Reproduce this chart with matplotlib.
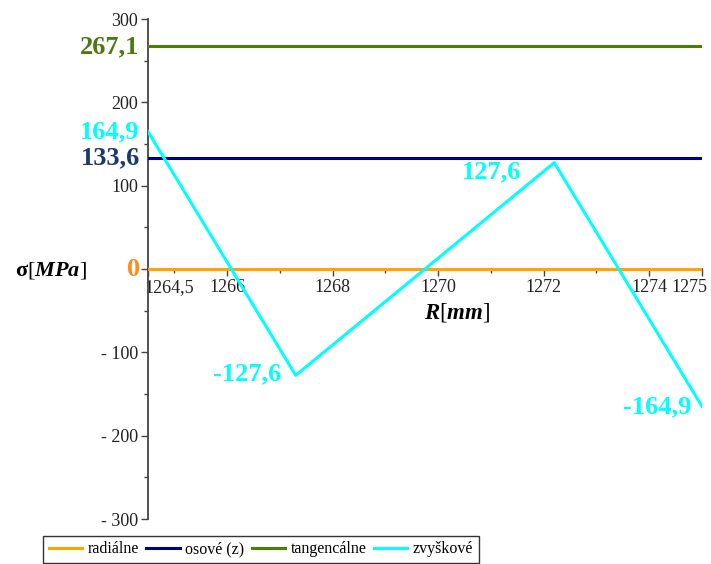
import numpy as np
import matplotlib.pyplot as plt
from matplotlib.transforms import ScaledTranslation

plt.rcParams['font.family'] = ['Liberation Serif', 'DejaVu Serif']
plt.rcParams['mathtext.fontset'] = 'custom'
plt.rcParams['mathtext.rm'] = 'Liberation Serif'
plt.rcParams['mathtext.it'] = 'Liberation Serif:italic'
plt.rcParams['mathtext.bf'] = 'Liberation Serif:bold'
plt.rcParams['mathtext.bfit'] = 'Liberation Serif:bold:italic'

# radius range of the ring [mm]
r_in, r_out = 1264.5, 1275.0

# constant stresses [MPa]
radialne = 0.0
osove = 133.6
tangencalne = 267.1

# residual stress, piecewise linear [MPa]
zvys_r = [1264.5, 1267.3, 1272.2, 1275.0]
zvys_s = [164.9, -127.6, 127.6, -164.9]

xtick_vals = [1264.5, 1266, 1268, 1270, 1272, 1274, 1275]
xtick_txt = ['1264,5', '1266', '1268', '1270', '1272', '1274', '1275']

c_rad = '#FFA500'
c_os = '#000080'
c_tan = '#4C7F00'
c_zv = '#00FFFF'

fig = plt.figure(figsize=(7.11, 5.64), dpi=100)
ax = fig.add_axes([148/711, 1 - 519/564, (702 - 148)/711, 500/564])

ax.plot([r_in, r_out], [radialne]*2, color=c_rad, lw=2.2, label='radiálne', zorder=3)
ax.plot([r_in, r_out], [osove]*2, color=c_os, lw=2.2, label='osové (z)', zorder=3)
ax.plot([r_in, r_out], [tangencalne]*2, color=c_tan, lw=2.2, label='tangencálne', zorder=3)
ax.plot(zvys_r, zvys_s, color=c_zv, lw=2.2, label='zvyškové', zorder=4)

ax.set_xlim(r_in, r_out)
ax.set_ylim(-300, 300)

# axes crossing at sigma = 0
for s in ['top', 'right']:
    ax.spines[s].set_visible(False)
ax.spines['bottom'].set_position(('data', 0))
ax.spines['left'].set_color('#444444')
ax.spines['bottom'].set_color('#444444')
ax.spines['left'].set_linewidth(1.3)
ax.spines['bottom'].set_linewidth(1.3)

ax.set_yticks(np.arange(-300, 301, 100))
ax.set_yticks(np.arange(-250, 300, 100), minor=True)
ax.set_yticklabels([('- ' + str(abs(v))) if v < 0 else ('' if v == 0 else str(v))
                    for v in range(-300, 301, 100)])
ax.set_xticks(xtick_vals)
ax.set_xticks([1265, 1267, 1269, 1271, 1273], minor=True)
ax.set_xticklabels(xtick_txt)
ax.tick_params(axis='both', which='major', length=5, width=1, color='#444444',
               labelsize=13, labelcolor='#222222', pad=2)
ax.tick_params(axis='both', which='minor', length=3, width=1, color='#444444')
xl = ax.get_xticklabels()
xl[0].set_horizontalalignment('left')
xl[0].set_transform(xl[0].get_transform() + ScaledTranslation(-4/100, 0, fig.dpi_scale_trans))
xl[-1].set_horizontalalignment('right')
xl[-1].set_transform(xl[-1].get_transform() + ScaledTranslation(5/100, 0, fig.dpi_scale_trans))

# value labels
bf = dict(fontsize=19, fontweight='bold', va='center')
ytr = ax.get_yaxis_transform()
ax.text(-0.015, tangencalne, '267,1', color='#4A7A12', ha='right', transform=ytr, **bf)
ax.text(-0.015, 164.9, '164,9', color=c_zv, ha='right', transform=ytr, **bf)
ax.text(-0.015, osove, '133,6', color='#1B3A6B', ha='right', transform=ytr, **bf)
ax.text(-0.015, radialne, '0', color='#FF8C1A', ha='right', transform=ytr, **bf)
ax.text(zvys_r[1] - 0.28, zvys_s[1] + 2, '-127,6', color=c_zv, ha='right', **bf)
ax.text(zvys_r[2] - 0.62, zvys_s[2] - 11, '127,6', color=c_zv, ha='right', **bf)
ax.text(zvys_r[3] - 0.2, zvys_s[3], '-164,9', color=c_zv, ha='right', **bf)

# axis titles
fig.text(15/711, 1 - 270/564, r'$\mathbf{σ}[\boldsymbol{MPa}]$', fontsize=16,
         va='center', ha='left')
fig.text(457/711, 1 - 313/564, r'$\boldsymbol{R}[\boldsymbol{mm}]$', fontsize=16.5,
         va='center', ha='center')

leg = fig.legend(loc='lower left', bbox_to_anchor=(43/711, 1/564), ncol=4,
                 fontsize=11.5, frameon=True, fancybox=False, handlelength=2.1,
                 handletextpad=0.35, columnspacing=0.45, borderpad=0.35,
                 borderaxespad=0)
leg.get_frame().set_edgecolor('black')
leg.get_frame().set_linewidth(1.0)

fig.savefig('out.png', dpi=100)
